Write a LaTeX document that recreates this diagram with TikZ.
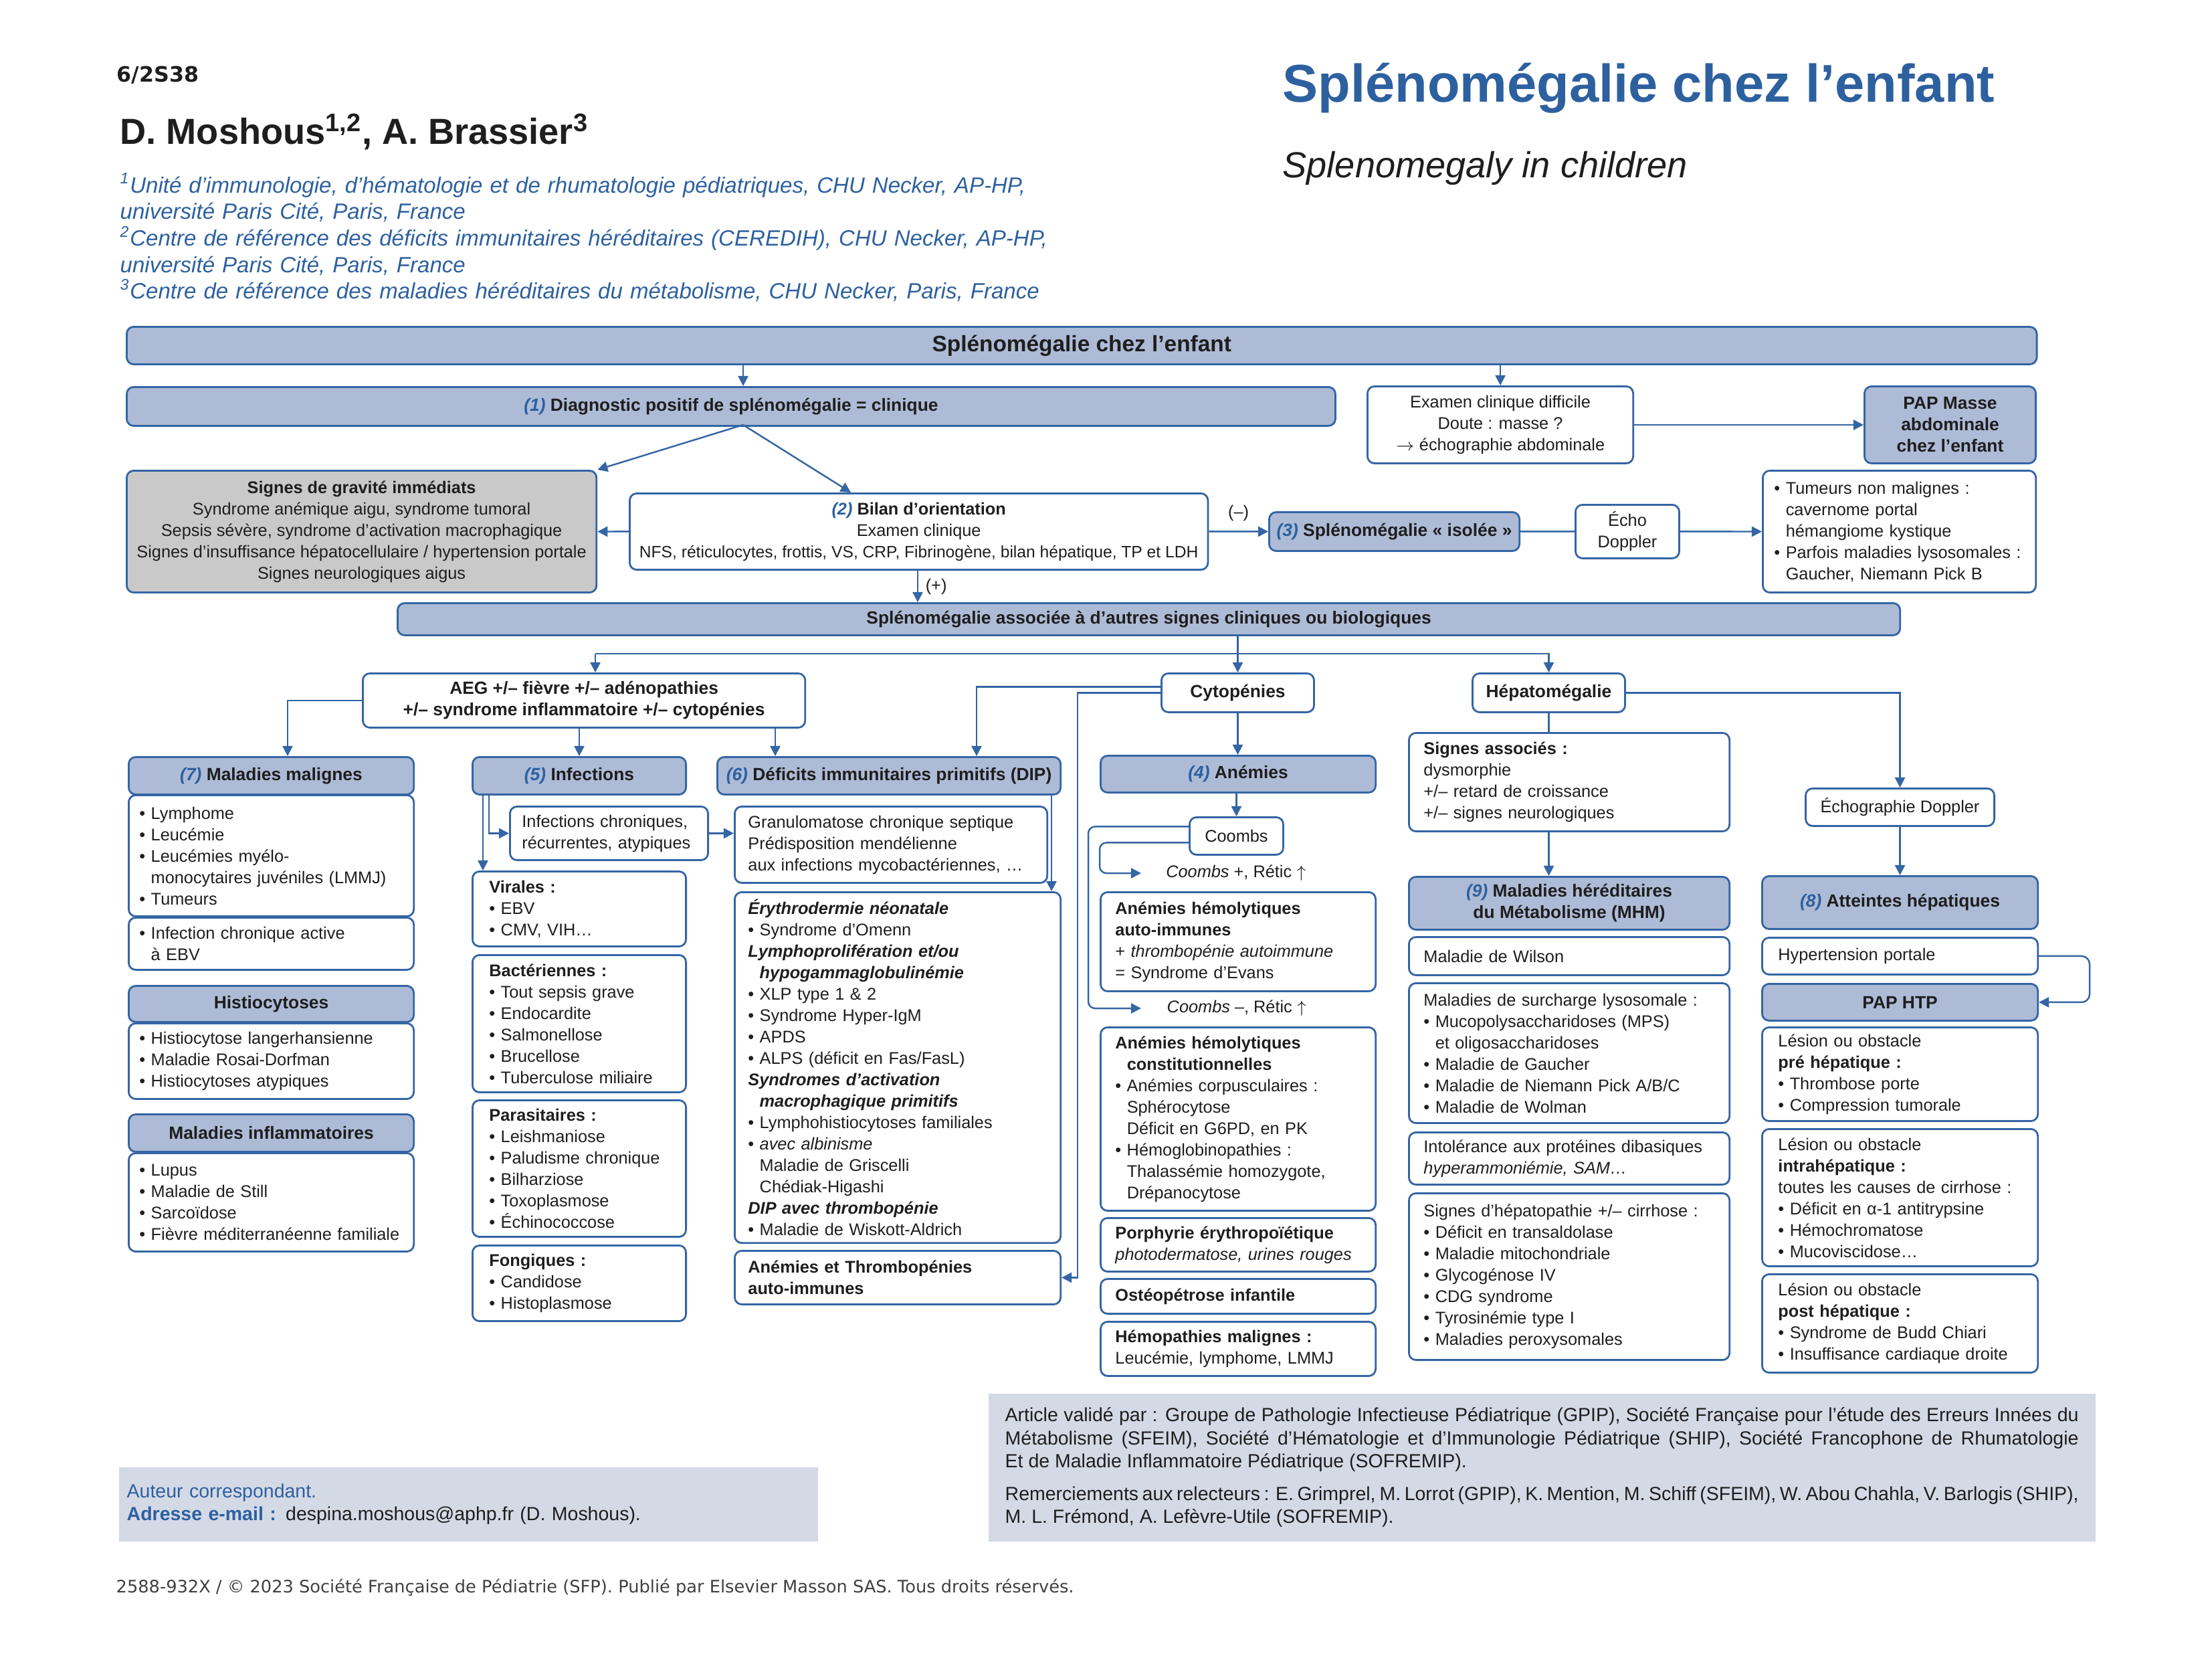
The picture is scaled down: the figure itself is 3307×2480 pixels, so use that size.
\documentclass[tikz,border=0pt]{standalone}
\usepackage{fontspec}
\setmainfont{Liberation Sans}
\newfontfamily\dejavu{DejaVu Sans}
\usepackage{xcolor}
\usetikzlibrary{arrows.meta}

\definecolor{blueT}{HTML}{2D609F}
\definecolor{lineB}{HTML}{3465A4}
\definecolor{headF}{HTML}{ADBBD6}
\definecolor{grayF}{HTML}{C9C9C9}
\definecolor{footF}{HTML}{D4D9E6}
\definecolor{inkK}{HTML}{1E1E1E}

\newcommand{\bodyf}{\fontsize{7.2}{9.1}\selectfont}
\newcommand{\headf}{\bfseries\fontsize{7.5}{9.1}\selectfont}
\newcommand{\nlab}[1]{{\color{blueT}\itshape(#1)}}
\newcommand{\ind}{\hphantom{• }}

\begin{document}
\begin{tikzpicture}[x=0.01cm, y=-0.01cm, font=\bodyf,
  every node/.style={inner sep=0pt, text=inkK},
  box/.style={draw=lineB, line width=0.8pt, rounded corners=3pt, anchor=north west,
    inner xsep=0.05cm, inner ysep=0.02cm},
  hbox/.style={box, fill=headF, align=center, font=\headf},
  wbox/.style={box, fill=white, align=center},
  lbox/.style={box, fill=white, align=left},
  mallist/.style={lbox, text width=3.94cm, inner xsep=0.16cm},
  inflist/.style={lbox, text width=2.69cm, inner xsep=0.25cm},
  diplist/.style={lbox, inner xsep=0.20cm},
  anlist/.style={lbox, text width=3.67cm, inner xsep=0.22cm},
  mhmlist/.style={lbox, text width=4.35cm, inner xsep=0.22cm},
  heplist/.style={lbox, text width=3.64cm, inner xsep=0.24cm},
  footbox/.style={anchor=north west, fill=footF, font=\fontsize{8.1}{9.8}\selectfont},
  arr/.style={draw=lineB, line width=0.7pt, -{Triangle[length=4.3pt,width=4.3pt]}},
  link/.style={draw=lineB, line width=0.7pt}]

  \useasboundingbox (0,0) rectangle (3307,2480);

  % --- Page header ---
  \node[anchor=base west, font=\dejavu\bfseries\fontsize{9}{11}\selectfont] (pageno) at (174,122) {6/2S38};
  \node[anchor=base west, font=\bfseries\fontsize{15.4}{18}\selectfont] (authors) at (179,215)
    {D. Moshous\textsuperscript{1,2}, A. Brassier\textsuperscript{3}};
  \node[anchor=base west, text width=16cm, align=left, text=blueT,
    font=\itshape\fontsize{9.4}{11.3}\selectfont] (affil) at (179,288)
    {\textsuperscript{1}Unité d’immunologie, d’hématologie et de rhumatologie pédiatriques, CHU Necker, AP-HP,\\
     université Paris Cité, Paris, France\\
     \textsuperscript{2}Centre de référence des déficits immunitaires héréditaires (CEREDIH), CHU Necker, AP-HP,\\
     université Paris Cité, Paris, France\\
     \textsuperscript{3}Centre de référence des maladies héréditaires du métabolisme, CHU Necker, Paris, France};
  \node[anchor=base west, text=blueT, font=\bfseries\fontsize{22.6}{26}\selectfont] (title) at (1917,152)
    {Splénomégalie chez l’enfant};
  \node[anchor=base west, font=\itshape\fontsize{15.4}{18}\selectfont] (subtitle) at (1917,265)
    {Splenomegaly in children};

  % --- Top rows ---
  \node[hbox, minimum width=28.54cm, minimum height=0.56cm, font=\bfseries\fontsize{9.5}{11}\selectfont]
    (top) at (188,487) {Splénomégalie chez l’enfant};
  \node[hbox, minimum width=18.06cm, minimum height=0.58cm] (diag) at (188,577)
    {\nlab{1} Diagnostic positif de splénomégalie = clinique};
  \node[wbox, minimum width=3.97cm, minimum height=1.15cm] (exam) at (2043,576)
    {Examen clinique difficile\\Doute : masse ?\\$\rightarrow$ échographie abdominale};
  \node[hbox, minimum width=2.56cm, minimum height=1.15cm] (pap) at (2786,576)
    {PAP Masse\\abdominale\\chez l’enfant};
  \node[wbox, fill=grayF, minimum width=7.02cm, minimum height=1.82cm] (grav) at (188,702)
    {\textbf{Signes de gravité immédiats}\\Syndrome anémique aigu, syndrome tumoral\\
     Sepsis sévère, syndrome d’activation macrophagique\\
     Signes d’insuffisance hépatocellulaire / hypertension portale\\Signes neurologiques aigus};
  \node[wbox, minimum width=8.64cm, minimum height=1.14cm] (bilan) at (940,736)
    {\textbf{\nlab{2} Bilan d’orientation}\\Examen clinique\\
     {\fontsize{7.0}{9.1}\selectfont NFS, réticulocytes, frottis, VS, CRP, Fibrinogène, bilan hépatique, TP et LDH}};
  \node[hbox, minimum width=3.74cm, minimum height=0.58cm] (iso) at (1896,764)
    {\nlab{3} Splénomégalie «~isolée~»};
  \node[wbox, minimum width=1.55cm, minimum height=0.80cm] (echo) at (2354,753) {Écho\\Doppler};
  \node[lbox, text width=3.74cm, inner xsep=0.17cm, minimum height=1.82cm] (tum) at (2634,702)
    {• Tumeurs non malignes :\\\ind cavernome portal\\\ind hémangiome kystique\\
     • Parfois maladies lysosomales :\\\ind Gaucher, Niemann Pick B};

  % --- Associated signs band ---
  \node[hbox, minimum width=22.45cm, minimum height=0.48cm] (band) at (593,900)
    {Splénomégalie associée à d’autres signes cliniques ou biologiques};
  \node[wbox, font=\headf, minimum width=6.61cm, minimum height=0.81cm] (aeg) at (541,1005)
    {AEG +/– fièvre +/– adénopathies\\+/– syndrome inflammatoire +/– cytopénies};
  \node[wbox, font=\headf, minimum width=2.28cm, minimum height=0.58cm] (cyto) at (1735,1005) {Cytopénies};
  \node[wbox, font=\headf, minimum width=2.28cm, minimum height=0.58cm] (hepa) at (2200,1005) {Hépatomégalie};

  % --- Column: malignancies ---
  \node[hbox, minimum width=4.26cm, minimum height=0.56cm] (malh) at (191,1130) {\nlab{7} Maladies malignes};
  \node[mallist, minimum height=1.81cm] (mall) at (191,1187)
    {• Lymphome\\• Leucémie\\• Leucémies myélo-\\\ind monocytaires juvéniles (LMMJ)\\• Tumeurs};
  \node[mallist, minimum height=0.78cm] (ebv) at (191,1370) {• Infection chronique active\\\ind à EBV};
  \node[hbox, minimum width=4.26cm, minimum height=0.54cm] (hish) at (191,1472) {Histiocytoses};
  \node[mallist, minimum height=1.13cm] (hisl) at (191,1528)
    {• Histiocytose langerhansienne\\• Maladie Rosai-Dorfman\\• Histiocytoses atypiques};
  \node[hbox, minimum width=4.26cm, minimum height=0.56cm] (inflh) at (191,1664) {Maladies inflammatoires};
  \node[mallist, minimum height=1.47cm] (infl) at (191,1722)
    {• Lupus\\• Maladie de Still\\• Sarcoïdose\\• Fièvre méditerranéenne familiale};

  % --- Column: infections ---
  \node[hbox, minimum width=3.19cm, minimum height=0.56cm] (infh) at (705,1130) {\nlab{5} Infections};
  \node[lbox, text width=2.60cm, inner xsep=0.18cm, minimum height=0.80cm] (ichr) at (761,1204)
    {Infections chroniques,\\récurrentes, atypiques};
  \node[inflist, minimum height=1.12cm] (vir) at (705,1301) {\textbf{Virales :}\\• EBV\\• CMV, VIH…};
  \node[inflist, minimum height=2.05cm] (bac) at (705,1426)
    {\textbf{Bactériennes :}\\• Tout sepsis grave\\• Endocardite\\• Salmonellose\\• Brucellose\\• Tuberculose miliaire};
  \node[inflist, minimum height=2.04cm] (par) at (705,1643)
    {\textbf{Parasitaires :}\\• Leishmaniose\\• Paludisme chronique\\• Bilharziose\\• Toxoplasmose\\• Échinococcose};
  \node[inflist, minimum height=1.13cm] (fon) at (705,1860) {\textbf{Fongiques :}\\• Candidose\\• Histoplasmose};

  % --- Column: primary immune deficiencies ---
  \node[hbox, minimum width=5.13cm, minimum height=0.56cm] (diph) at (1071,1130)
    {\nlab{6} Déficits immunitaires primitifs (DIP)};
  \node[diplist, text width=4.27cm, minimum height=1.14cm] (gran) at (1097,1204)
    {Granulomatose chronique septique\\Prédisposition mendélienne\\aux infections mycobactériennes, …};
  \node[diplist, text width=4.47cm, minimum height=5.24cm] (dipb) at (1097,1332)
    {\textbf{\textit{Érythrodermie néonatale}}\\
     • Syndrome d’Omenn\\
     \textbf{\textit{Lymphoprolifération et/ou}}\\
     \ind\textbf{\textit{hypogammaglobulinémie}}\\
     • XLP type 1 \& 2\\
     • Syndrome Hyper-IgM\\
     • APDS\\
     • ALPS (déficit en Fas/FasL)\\
     \textbf{\textit{Syndromes d’activation}}\\
     \ind\textbf{\textit{macrophagique primitifs}}\\
     • Lymphohistiocytoses familiales\\
     • \textit{avec albinisme}\\
     \ind Maladie de Griscelli\\
     \ind Chédiak-Higashi\\
     \textbf{\textit{DIP avec thrombopénie}}\\
     • Maladie de Wiskott-Aldrich};
  \node[diplist, text width=4.47cm, minimum height=0.80cm] (aet) at (1097,1868)
    {\textbf{Anémies et Thrombopénies}\\\textbf{auto-immunes}};

  % --- Column: anaemias ---
  \node[hbox, minimum width=4.11cm, minimum height=0.55cm] (anh) at (1644,1128) {\nlab{4} Anémies};
  \node[wbox, minimum width=1.40cm, minimum height=0.56cm] (coombs) at (1777,1220) {Coombs};
  \node (cplus) at (1848,1305) {\textit{Coombs} +, Rétic $\uparrow$};
  \node[anlist, minimum height=1.48cm] (ahai) at (1644,1332)
    {\textbf{Anémies hémolytiques}\\\textbf{auto-immunes}\\+ \textit{thrombopénie autoimmune}\\= Syndrome d’Evans};
  \node (cminus) at (1849,1507) {\textit{Coombs} –, Rétic $\uparrow$};
  \node[anlist, minimum height=2.74cm] (ahc) at (1644,1534)
    {\textbf{Anémies hémolytiques}\\\ind\textbf{constitutionnelles}\\• Anémies corpusculaires :\\
     \ind Sphérocytose\\\ind Déficit en G6PD, en PK\\• Hémoglobinopathies :\\
     \ind Thalassémie homozygote,\\\ind Drépanocytose};
  \node[anlist, minimum height=0.80cm] (porph) at (1644,1819)
    {\textbf{Porphyrie érythropoïétique}\\\textit{photodermatose, urines rouges}};
  \node[anlist, minimum height=0.52cm] (osteo) at (1644,1910) {\textbf{Ostéopétrose infantile}};
  \node[anlist, minimum height=0.81cm] (hemo) at (1644,1974)
    {\textbf{Hémopathies malignes :}\\Leucémie, lymphome, LMMJ};

  % --- Column: metabolic diseases ---
  \node[mhmlist, minimum height=1.47cm] (sigA) at (2105,1094)
    {\textbf{Signes associés :}\\dysmorphie\\+/– retard de croissance\\+/– signes neurologiques};
  \node[hbox, minimum width=4.79cm, minimum height=0.79cm] (mhm) at (2105,1309)
    {\nlab{9} Maladies héréditaires\\du Métabolisme (MHM)};
  \node[mhmlist, minimum height=0.57cm] (wil) at (2105,1399) {Maladie de Wilson};
  \node[mhmlist, minimum height=2.09cm] (lyso) at (2105,1468)
    {Maladies de surcharge lysosomale :\\• Mucopolysaccharidoses (MPS)\\\ind et oligosaccharidoses\\
     • Maladie de Gaucher\\• Maladie de Niemann Pick A/B/C\\• Maladie de Wolman};
  \node[mhmlist, minimum height=0.78cm] (ipd) at (2105,1691)
    {Intolérance aux protéines dibasiques\\\textit{hyperammoniémie, SAM…}};
  \node[mhmlist, minimum height=2.49cm] (hpath) at (2105,1782)
    {Signes d’hépatopathie +/– cirrhose :\\• Déficit en transaldolase\\• Maladie mitochondriale\\
     • Glycogénose IV\\• CDG syndrome\\• Tyrosinémie type I\\• Maladies peroxysomales};

  % --- Column: liver ---
  \node[wbox, minimum width=2.82cm, minimum height=0.56cm] (echD) at (2698,1177) {Échographie Doppler};
  \node[hbox, minimum width=4.12cm, minimum height=0.79cm] (ath) at (2633,1308) {\nlab{8} Atteintes hépatiques};
  \node[heplist, minimum height=0.55cm] (htp) at (2633,1400) {Hypertension portale};
  \node[hbox, minimum width=4.12cm, minimum height=0.55cm] (paph) at (2633,1469) {PAP HTP};
  \node[heplist, minimum height=1.40cm] (pre) at (2633,1534)
    {Lésion ou obstacle\\\textbf{pré hépatique :}\\• Thrombose porte\\• Compression tumorale};
  \node[heplist, minimum height=2.05cm] (intra) at (2633,1686)
    {Lésion ou obstacle\\\textbf{intrahépatique :}\\toutes les causes de cirrhose :\\
     • Déficit en α-1 antitrypsine\\• Hémochromatose\\• Mucoviscidose…};
  \node[heplist, minimum height=1.47cm] (post) at (2633,1903)
    {Lésion ou obstacle\\\textbf{post hépatique :}\\• Syndrome de Budd Chiari\\• Insuffisance cardiaque droite};

  % --- Connectors: top part ---
  \coordinate (dsplit) at (1111,635);
  \draw[arr] (1111,0 |- top.south) -- (1111,0 |- diag.north);
  \draw[arr] (exam.north |- top.south) -- (exam.north);
  \draw[arr] (exam.east) -- (pap.west);
  \draw[arr] (dsplit) -- (grav.north east);
  \draw[arr] (dsplit) -- (1272,0 |- bilan.north);
  \draw[arr] (bilan.west) -- (grav.east);
  \draw[arr] (1372,0 |- bilan.south) -- (1372,0 |- band.north) node[midway, right=3pt] {(+)};
  \draw[arr] (bilan.east) -- (iso.west) node[midway, above=4pt] {(–)};
  \draw[link] (iso.east) -- (echo.west);
  \draw[arr] (echo.east) -- (tum.west);

  % --- Connectors: band to second level ---
  \coordinate (fork) at (890,977);
  \draw[arr] (cyto.north |- band.south) -- (cyto.north);
  \draw[arr] (fork) -- (fork |- aeg.north);
  \draw[arr] (fork) -| (hepa.north);

  % --- Connectors: AEG and cytopenias ---
  \draw[arr] (aeg.west) -| (430,0 |- malh.north);
  \draw[arr] (infh.north |- aeg.south) -- (infh.north);
  \draw[arr] (1159,0 |- aeg.south) -- (1159,0 |- diph.north);
  \draw[arr] ([yshift=0.09cm]cyto.west) -| (1460,0 |- diph.north);
  \draw[arr] (cyto.west) -| (1611,0 |- aet.east) -- (aet.east);
  \draw[arr] (cyto.south) -- (cyto.south |- anh.north);
  \draw[arr] (coombs.north |- anh.south) -- (coombs.north);

  % --- Connectors: Coombs branches ---
  \coordinate (cpin) at (1706,1305);
  \coordinate (cmin) at (1706,1507);
  \draw[arr, rounded corners=0.1cm] ([yshift=0.14cm]coombs.west) -| (1627,0 |- cmin) -- (cmin);
  \draw[arr, rounded corners=0.1cm] ([yshift=-0.10cm]coombs.west) -| (1644,0 |- cpin) -- (cpin);

  % --- Connectors: infections and DIP ---
  \draw[arr] (722,0 |- infh.south) -- (722,0 |- vir.north);
  \draw[arr] (731,0 |- infh.south) |- (ichr.west);
  \draw[arr] (ichr.east) -- (ichr.east -| gran.west);
  \draw[arr] (1572,0 |- diph.south) -- (1572,0 |- dipb.north);

  % --- Connectors: hepatomegaly ---
  \draw[link] (hepa.south) -- (hepa.south |- sigA.north);
  \draw[arr] (hepa.south |- sigA.south) -- (hepa.south |- mhm.north);
  \draw[arr] (hepa.east) -| (echD.north);
  \draw[arr] (echD.south) -- (echD.south |- ath.north);
  \draw[arr, rounded corners=0.12cm] (htp.east) -- (3124,0 |- htp.east) -- (3124,0 |- paph.east) -- (paph.east);

  % --- Footer ---
  \node[footbox, align=left, text width=10.21cm, inner xsep=0.12cm, minimum height=1.11cm] (corr) at (177,2192)
    {{\color{blueT}Auteur correspondant.}\\{\color{blueT}\bfseries Adresse e-mail :} despina.moshous@aphp.fr (D. Moshous).};
  \node[footbox, align=justify, text width=16.04cm, inner xsep=0.25cm, minimum height=2.21cm] (valid) at (1477,2082)
    {Article validé par : Groupe de Pathologie Infectieuse Pédiatrique (GPIP), Société Française pour l’étude des Erreurs Innées du\linebreak
     Métabolisme (SFEIM), Société d’Hématologie et d’Immunologie Pédiatrique (SHIP), Société Francophone de Rhumatologie\linebreak
     Et de Maladie Inflammatoire Pédiatrique (SOFREMIP).\\[4pt]
     Remerciements aux relecteurs : E. Grimprel, M. Lorrot (GPIP), K. Mention, M. Schiff (SFEIM), W. Abou Chahla, V. Barlogis (SHIP),\linebreak
     M. L. Frémond, A. Lefèvre-Utile (SOFREMIP).};
  \node[anchor=base west, font=\dejavu\fontsize{7.3}{9}\selectfont, text=inkK!85] (copy) at (173,2380)
    {2588-932X / © 2023 Société Française de Pédiatrie (SFP). Publié par Elsevier Masson SAS. Tous droits réservés.};

\end{tikzpicture}
\end{document}
